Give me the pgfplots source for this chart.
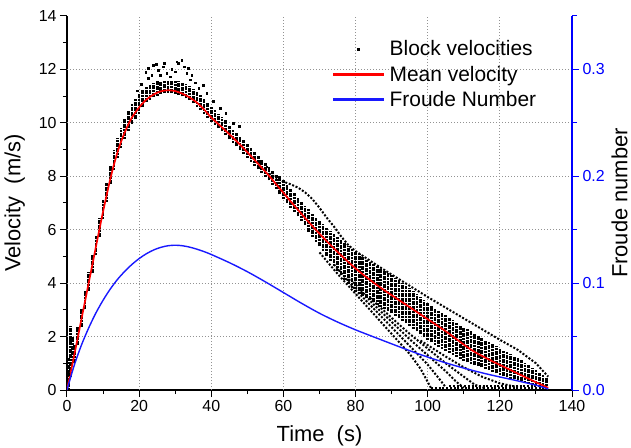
\documentclass[border=0pt]{standalone}
\usepackage{pgfplots}
\pgfplotsset{compat=1.18}
\usepackage{fontspec}
\setmainfont{Liberation Sans}
\definecolor{froude}{rgb}{0.1,0.1,1}
\begin{document}
\begin{tikzpicture}
\pgfplotsset{
  dotline/.style={black, line width=2.0bp, dash pattern=on 2.0bp off 1.7bp, line cap=butt, forget plot},
}
\begin{axis}[
  scale only axis, width=505bp, height=374bp,
  xmin=0, xmax=140, ymin=0, ymax=14,
  axis x line=bottom, axis y line=left,
  axis line style={-, line width=1.2bp, black},
  xtick={0,20,...,140}, minor x tick num=1,
  ytick={0,2,...,14}, minor y tick num=1,
  tick align=outside,
  major tick length=7bp, minor tick length=4bp,
  tick style={line width=1bp, black},
  extra x ticks={20,40,...,120}, extra x tick labels={},
  extra y ticks={2,4,...,12}, extra y tick labels={},
  extra tick style={grid=major, major tick length=0pt},
  grid style={gray!85, line width=0.9bp, dash pattern=on 1bp off 2bp},
  /pgf/number format/assume math mode=true,
  tick label style={font=\fontsize{16}{18}\selectfont},
  label style={font=\fontsize{22}{24}\selectfont},
  xlabel={Time~~(s)}, ylabel={Velocity~~(m/s)},
  unbounded coords=jump,
  legend style={draw=none, fill=none, at={(0.52,0.945)}, anchor=north west,
    font=\fontsize{21}{23}\selectfont, row sep=4.5bp,
    nodes={inner xsep=6.5bp}},
  legend cell align=left,
]
\addlegendimage{legend image code/.code={\fill[black] (24.3bp,-0.8bp) rectangle (25.9bp,0.8bp);}}
\addlegendimage{legend image code/.code={\fill[red] (0bp,-0.85bp) rectangle (50bp,0.85bp);}}
\addlegendimage{legend image code/.code={\fill[froude] (0bp,-0.8bp) rectangle (50bp,0.8bp);}}
\legend{Block velocities, Mean velocity, Froude Number}

% dense core of block velocities: one column of dots per second
\addplot[black, line width=2.7bp, dash pattern=on 2.0bp off 0.6bp, line cap=butt, forget plot] coordinates {
(0.5,0)(0.5,1.2)(0.5,nan)(1,0.5)(1,2.4)(1,nan)(1.5,1.1)(1.5,2.0)(1.5,nan)
(2,1.0)(2,1.7)(2,nan)(3,1.67)(3,2.37)(3,nan)(4,2.35)(4,3.05)(4,nan)(5,3.02)(5,3.72)(5,nan)
(6,3.7)(6,4.4)(6,nan)(7,4.37)(7,5.07)(7,nan)(8,5.05)(8,5.75)(8,nan)(9,5.72)(9,6.42)(9,nan)
(10,6.4)(10,7.1)(10,nan)(11,7.05)(11,7.75)(11,nan)(12,7.7)(12,8.4)(12,nan)
(13,8.25)(13,9.0)(13,nan)(14,8.7)(14,9.45)(14,nan)(15,9.07)(15,9.82)(15,nan)(16,9.4)(16,10.15)(16,nan)
(17,9.7)(17,10.45)(17,nan)(18,9.95)(18,10.7)(18,nan)(19,10.14)(19,10.89)(19,nan)(20,10.33)(20,11.08)(20,nan)
(21,10.58)(21,11.25)(21,nan)(22,10.77)(22,11.35)(22,nan)(23,10.87)(23,11.45)(23,nan)(24,10.96)(24,11.5)(24,nan)
(25,11.02)(25,11.55)(25,nan)(26,11.08)(26,11.55)(26,nan)(27,11.1)(27,11.55)(27,nan)(28,11.12)(28,11.58)(28,nan)
(29,11.11)(29,11.58)(29,nan)(30,11.09)(30,11.55)(30,nan)(31,11.04)(31,11.55)(31,nan)(32,10.99)(32,11.5)(32,nan)
(33,10.92)(33,11.45)(33,nan)(34,10.85)(34,11.38)(34,nan)(35,10.74)(35,11.28)(35,nan)(36,10.61)(36,11.16)(36,nan)
(37,10.48)(37,11.03)(37,nan)(38,10.35)(38,10.9)(38,nan)(39,10.19)(39,10.74)(39,nan)(40,10.03)(40,10.58)(40,nan)
(41,9.92)(41,10.47)(41,nan)(42,9.8)(42,10.35)(42,nan)(43,9.68)(43,10.23)(43,nan)(44,9.55)(44,10.1)(44,nan)
(45,9.38)(45,9.88)(45,nan)(46,9.25)(46,9.75)(46,nan)(47,9.12)(47,9.62)(47,nan)(48,8.98)(48,9.48)(48,nan)
(49,8.84)(49,9.34)(49,nan)(50,8.7)(50,9.2)(50,nan)(51,8.55)(51,9.05)(51,nan)(52,8.4)(52,8.9)(52,nan)
(53,8.26)(53,8.76)(53,nan)(54,8.12)(54,8.62)(54,nan)(55,7.99)(55,8.49)(55,nan)(56,7.85)(56,8.35)(56,nan)
(57,7.69)(57,8.19)(57,nan)(58,7.53)(58,8.03)(58,nan)(59,7.32)(59,8.02)(59,nan)(60,7.15)(60,7.85)(60,nan)
(61,6.99)(61,7.69)(61,nan)(62,6.82)(62,7.52)(62,nan)(63,6.66)(63,7.36)(63,nan)(64,6.5)(64,7.2)(64,nan)
(65,6.34)(65,7.04)(65,nan)(66,6.17)(66,6.87)(66,nan)(67,5.91)(67,6.76)(67,nan)(68,5.73)(68,6.6)(68,nan)
(69,5.55)(69,6.44)(69,nan)(70,5.38)(70,6.33)(70,nan)(71,5.2)(71,6.2)(71,nan)(72,5.01)(72,6.06)(72,nan)
(73,4.83)(73,5.95)(73,nan)(74,4.65)(74,5.85)(74,nan)(75,4.47)(75,5.73)(75,nan)(76,4.29)(76,5.62)(76,nan)
(77,4.13)(77,5.51)(77,nan)(78,3.98)(78,5.4)(78,nan)(79,3.83)(79,5.29)(79,nan)(80,3.68)(80,5.18)(80,nan)
(81,3.59)(81,5.08)(81,nan)(82,3.5)(82,4.98)(82,nan)(83,3.43)(83,4.89)(83,nan)(84,3.36)(84,4.8)(84,nan)
(85,3.28)(85,4.71)(85,nan)(86,3.2)(86,4.63)(86,nan)(87,3.11)(87,4.54)(87,nan)(88,3.03)(88,4.46)(88,nan)
(89,2.95)(89,4.38)(89,nan)(90,2.87)(90,4.3)(90,nan)(91,2.78)(91,4.2)(91,nan)(92,2.69)(92,4.1)(92,nan)
(93,2.6)(93,4.0)(93,nan)(94,2.5)(94,3.9)(94,nan)(95,2.4)(95,3.8)(95,nan)(96,2.3)(96,3.7)(96,nan)
(97,2.19)(97,3.59)(97,nan)(98,2.08)(98,3.48)(98,nan)(99,1.97)(99,3.36)(99,nan)(100,1.87)(100,3.24)(100,nan)
(101,1.78)(101,3.15)(101,nan)(102,1.7)(102,3.06)(102,nan)(103,1.62)(103,2.97)(103,nan)(104,1.55)(104,2.88)(104,nan)
(105,1.47)(105,2.79)(105,nan)(106,1.4)(106,2.7)(106,nan)(107,1.32)(107,2.61)(107,nan)(108,1.25)(108,2.52)(108,nan)
(109,1.17)(109,2.43)(109,nan)(110,1.09)(110,2.35)(110,nan)(111,1.03)(111,2.27)(111,nan)(112,0.97)(112,2.19)(112,nan)
(113,0.93)(113,2.11)(113,nan)(114,0.89)(114,2.03)(114,nan)(115,0.85)(115,1.95)(115,nan)(116,0.8)(116,1.87)(116,nan)
(117,0.74)(117,1.79)(117,nan)(118,0.68)(118,1.71)(118,nan)(119,0.62)(119,1.63)(119,nan)(120,0.56)(120,1.55)(120,nan)
(121,0.51)(121,1.48)(121,nan)(122,0.47)(122,1.41)(122,nan)(123,0.43)(123,1.34)(123,nan)(124,0.4)(124,1.27)(124,nan)
(125,0.36)(125,1.2)(125,nan)(126,0.32)(126,1.11)(126,nan)(127,0.28)(127,1.02)(127,nan)(128,0.24)(128,0.93)(128,nan)
(129,0.2)(129,0.84)(129,nan)(130,0.17)(130,0.75)(130,nan)(131,0.13)(131,0.65)(131,nan)(132,0.1)(132,0.55)(132,nan)
(133,0.05)(133,0.45)(133,nan)
};

% separate block trajectories
\addplot[dotline] coordinates {(56,8.1)(58,7.95)(60,7.8)(62,7.7)(64,7.58)(66,7.4)(68,7.15)(70,6.82)(72,6.45)(74,6.12)(76,5.75)(78,5.42)(80,5.2)(85,4.75)(90,4.32)(95,3.9)(100,3.48)(105,3.08)(110,2.68)(115,2.28)(120,1.88)(125,1.5)(130,1.0)(133.4,0.5)};
\addplot[dotline] coordinates {(70,5.15)(75,4.35)(80,3.6)(85,2.85)(90,2.1)(95,1.35)(98,0.8)(100,0.3)(101,0.05)};
\addplot[dotline] coordinates {(74,4.7)(80,3.75)(85,3.05)(90,2.35)(95,1.65)(100,0.95)(103,0.45)(105,0.1)};
\addplot[dotline] coordinates {(78,4.25)(85,3.2)(90,2.55)(95,1.9)(100,1.3)(105,0.7)(108,0.3)(110,0.08)};
\addplot[dotline] coordinates {(84,3.45)(90,2.7)(95,2.1)(100,1.55)(105,1.0)(110,0.5)(113,0.2)(116,0.06)};
\addplot[dotline] coordinates {(98,1.85)(105,1.25)(110,0.85)(115,0.5)(120,0.25)(125,0.1)};
\addplot[dotline] coordinates {(101,0.06)(133.4,0.06)};
\addplot[dotline] coordinates {(106,0.15)(133,0.15)};

% scattered outliers
\addplot[only marks, mark=square*, mark size=0.85bp, black, forget plot] coordinates {
(22.5,12.04)(23.9,12.17)(25.3,11.98)(25.8,11.79)(23.5,11.79)(22.5,11.67)(26.7,12.1)(27.6,11.86)
(29.9,11.92)(30.9,12.23)(31.8,12.35)(30.4,12.29)(28.6,11.73)(33.2,11.86)(33.6,12.04)(34.6,11.79)
(34.1,11.61)(37.8,11.42)(38.7,11.11)(21.8,11.9)(24.8,12.2)(27,12.22)(29,12.0)(32.5,12.1)
(35.5,11.5)(36.5,11.3)(47.7,9.88)(55.4,8.36)(20.5,11.45)(19.5,11.2)(40.5,10.8)(42.5,10.55)
(44,10.35)(46,10.0)(0.3,0.6)(0.8,1.9)};

% mean velocity
\addplot[red, line width=1.7bp, smooth, forget plot] coordinates {
(0,0)(1,0.65)(2,1.3)(3,1.97)(4,2.65)(5,3.32)(6,4.0)(7,4.67)(8,5.35)(9,6.02)(10,6.68)(11,7.3)(12,7.9)
(13,8.43)(14,8.9)(15,9.3)(16,9.64)(17,9.94)(18,10.2)(20,10.58)(22,10.87)(24,11.06)(26,11.18)(28,11.22)
(30,11.19)(32,11.09)(34,10.95)(36,10.76)(38,10.5)(40,10.2)(42,9.95)(44,9.7)(46,9.45)(48,9.18)(50,8.9)
(52,8.61)(54,8.32)(56,8.02)(58,7.7)(60,7.38)(62,7.06)(64,6.75)(66,6.44)(68,6.14)(70,5.85)(72,5.57)
(74,5.3)(76,5.04)(78,4.79)(80,4.55)(82,4.33)(84,4.12)(86,3.92)(88,3.73)(90,3.55)(92,3.37)(94,3.19)
(96,3.01)(98,2.83)(100,2.65)(102,2.47)(104,2.29)(106,2.1)(108,1.9)(110,1.7)(112,1.51)(114,1.35)
(116,1.21)(118,1.07)(120,0.94)(122,0.81)(124,0.68)(126,0.55)(128,0.42)(130,0.29)(132,0.17)(133.4,0.08)};
\end{axis}

\begin{axis}[
  scale only axis, width=505bp, height=374bp,
  xmin=0, xmax=140, ymin=0, ymax=0.35,
  axis x line=none, axis y line=right,
  axis line style={-, line width=1.2bp, blue},
  ytick={0,0.1,0.2,0.3}, minor ytick={0.05,0.15,0.25,0.35},
  tick align=outside,
  major tick length=7bp, minor tick length=5bp,
  tick style={line width=1bp, blue},
  /pgf/number format/assume math mode=true,
  yticklabel style={font=\fontsize{16}{18}\selectfont, text=blue,
    /pgf/number format/.cd, fixed, fixed zerofill, precision=1},
  label style={font=\fontsize{22}{24}\selectfont},
  ylabel={Froude number},
]
\addplot[froude, line width=1.4bp, smooth, forget plot] coordinates {
(0,0)(2,0.023)(4,0.042)(6,0.058)(8,0.072)(10,0.084)(12,0.0945)(14,0.1035)(16,0.111)(18,0.1175)
(20,0.123)(22,0.1275)(24,0.131)(26,0.1335)(28,0.135)(30,0.1355)(32,0.135)(34,0.1337)(36,0.1318)
(38,0.1295)(40,0.1268)(45,0.1192)(50,0.1107)(55,0.1012)(60,0.0912)(65,0.0812)(70,0.0718)(75,0.0636)
(80,0.0563)(85,0.0497)(90,0.0432)(95,0.0368)(100,0.0308)(105,0.0254)(110,0.0205)(115,0.0161)
(120,0.0122)(125,0.0085)(130,0.0045)(133.4,0.001)};
\end{axis}
\pgfresetboundingbox
\path[use as bounding box] (-67bp,-58bp) rectangle (564bp,390bp);
\end{tikzpicture}
\end{document}
